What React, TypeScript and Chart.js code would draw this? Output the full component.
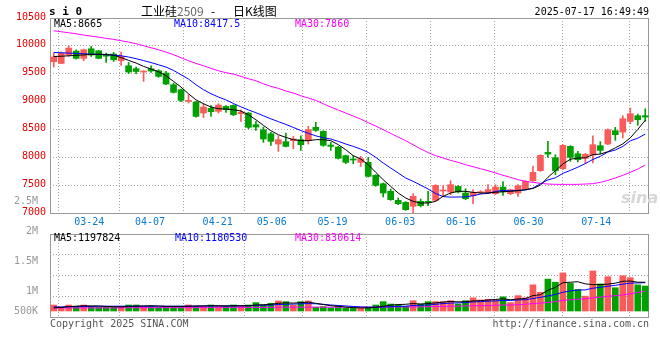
import React, { useEffect, useRef } from 'react';
import { Chart, registerables } from 'chart.js';
Chart.register(...registerables);

// ---------- data ----------
const DATES = ['03-21','03-24','03-25','03-26','03-27','03-28','03-31','04-01','04-02','04-03','04-07','04-08','04-09','04-10','04-11','04-14','04-15','04-16','04-17','04-18','04-21','04-22','04-23','04-24','04-25','04-28','04-29','04-30','05-06','05-07','05-08','05-09','05-12','05-13','05-14','05-15','05-16','05-19','05-20','05-21','05-22','05-23','05-26','05-27','05-28','05-29','05-30','06-03','06-04','06-05','06-06','06-09','06-10','06-11','06-12','06-13','06-16','06-17','06-18','06-19','06-20','06-23','06-24','06-25','06-26','06-27','06-30','07-01','07-02','07-03','07-04','07-07','07-08','07-09','07-10','07-11','07-14','07-15','07-16','07-17'];
const TICK_DATES = ['03-24','04-07','04-21','05-06','05-19','06-03','06-16','06-30','07-14'];

const OPEN = [9715,9685,9840,9906,9775,9948,9912,9830,9852,9733,9643,9590,9530,9590,9553,9512,9302,9213,9003,8991,8794,8878,8824,8914,8931,8782,8794,8585,8495,8423,8238,8280,8298,8316,8298,8537,8465,8220,8184,8029,7963,7909,7909,7676,7526,7389,7227,7191,7120,7209,7209,7227,7395,7377,7478,7359,7311,7365,7359,7347,7466,7347,7359,7430,7580,7759,8088,7993,7795,8196,8064,7981,8041,8208,8238,8477,8453,8644,8746,8746];
const HIGH = [9870,9890,10000,9930,9942,9990,9918,9870,9882,9888,9703,9620,9553,9643,9571,9542,9332,9225,9123,9003,8961,8926,8961,8926,8943,8854,8806,8645,8543,8447,8387,8435,8375,8387,8555,8627,8477,8268,8196,8041,8029,8017,7999,7688,7538,7430,7269,7203,7347,7251,7389,7508,7490,7580,7490,7436,7419,7401,7508,7508,7562,7430,7508,7580,7837,8047,8286,8047,8226,8208,8106,8070,8387,8280,8507,8537,8746,8884,8776,8872];
const LOW = [9620,9680,9810,9763,9733,9810,9770,9703,9721,9650,9500,9500,9362,9524,9434,9302,9153,8997,8973,8722,8710,8734,8794,8806,8746,8645,8513,8483,8268,8214,8106,8184,8154,8124,8238,8465,8196,8124,7969,7885,7885,7837,7646,7478,7287,7227,7150,7048,6995,7108,7132,7209,7299,7329,7359,7239,7167,7341,7347,7329,7317,7329,7299,7419,7568,7747,7999,7688,7777,7927,7915,7885,7897,8064,8226,8304,8346,8603,8573,8644];
const CLOSE = [9800,9870,9960,9775,9930,9835,9775,9815,9750,9810,9530,9540,9542,9548,9452,9314,9165,9021,9015,8734,8902,8818,8937,8854,8764,8806,8537,8543,8328,8286,8316,8196,8328,8226,8495,8483,8214,8196,7981,7909,7951,7975,7658,7496,7359,7239,7167,7060,7299,7132,7191,7496,7401,7508,7377,7257,7371,7377,7419,7466,7377,7419,7490,7568,7730,8035,8058,7759,8214,7999,7957,8053,8226,8124,8495,8405,8692,8782,8674,8722];

const MA5 = [9808,9814,9822,9830,9838,9846,9850,9846,9832,9790,9739,9691,9631,9583,9535,9464,9362,9260,9140,9030,8961,8902,8872,8866,8854,8830,8764,8674,8573,8477,8405,8357,8316,8298,8298,8316,8316,8298,8226,8136,8029,7969,7867,7730,7598,7478,7359,7269,7209,7179,7179,7209,7299,7359,7389,7389,7371,7359,7359,7371,7383,7389,7401,7419,7440,7500,7640,7760,7880,7965,7987,7990,8047,8058,8100,8170,8240,8350,8500,8665];
const MA10 = [9882,9876,9870,9864,9858,9852,9846,9840,9834,9822,9800,9770,9735,9700,9660,9619,9559,9482,9404,9302,9213,9141,9081,9030,8965,8905,8850,8800,8745,8690,8640,8590,8535,8480,8430,8385,8350,8328,8286,8238,8196,8148,8088,7999,7897,7807,7718,7628,7568,7500,7430,7350,7295,7285,7287,7289,7309,7341,7353,7386,7405,7397,7406,7412,7447,7525,7594,7632,7712,7765,7823,7887,7961,8017,8094,8131,8194,8296,8342,8417.5];
const MA30 = [10271,10253,10235,10217,10193,10175,10157,10134,10116,10092,10068,10038,10002,9966,9930,9888,9841,9787,9733,9685,9643,9595,9553,9518,9494,9452,9410,9374,9320,9272,9237,9189,9153,9105,9063,9021,8961,8902,8848,8794,8740,8686,8621,8561,8495,8429,8363,8298,8225,8150,8085,8030,7987,7945,7909,7867,7831,7795,7759,7718,7676,7640,7598,7568,7550,7532,7520,7514,7514,7514,7514,7520,7526,7550,7586,7628,7676,7730,7789,7860];

const VOLUME = [250000,160000,250000,200000,250000,200000,160000,160000,160000,200000,250000,250000,200000,200000,160000,200000,200000,200000,250000,200000,200000,250000,200000,200000,250000,200000,250000,350000,250000,320000,420000,390000,250000,390000,420000,160000,180000,130000,200000,110000,110000,110000,160000,250000,390000,290000,250000,200000,430000,290000,390000,390000,390000,430000,290000,430000,550000,460000,490000,460000,590000,350000,640000,550000,1090000,780000,1330000,1200000,1590000,1150000,900000,620000,1670000,1130000,1430000,970000,1470000,1390000,1090000,1040000];
const VOL_MA5 = [130000,150000,180000,200000,220000,210000,210000,190000,180000,170000,190000,200000,210000,220000,210000,190000,190000,190000,200000,210000,210000,220000,220000,210000,220000,220000,220000,250000,260000,280000,320000,340000,330000,350000,370000,320000,270000,220000,200000,160000,140000,130000,130000,150000,200000,240000,270000,280000,310000,290000,310000,340000,370000,400000,380000,390000,420000,430000,460000,480000,510000,470000,500000,520000,640000,680000,860000,990000,1180000,1200000,1220000,1130000,1100000,1100000,1120000,1160000,1240000,1250000,1200000,1197824];
const VOL_MA10 = [170000,170000,180000,180000,190000,190000,200000,200000,200000,200000,200000,200000,200000,200000,200000,200000,200000,200000,200000,200000,210000,210000,210000,210000,210000,210000,220000,230000,240000,250000,270000,280000,290000,300000,310000,300000,280000,250000,230000,210000,190000,170000,160000,160000,170000,180000,190000,200000,230000,240000,250000,280000,310000,330000,340000,350000,380000,390000,410000,420000,440000,440000,460000,470000,520000,570000,630000,690000,780000,840000,870000,880000,950000,990000,1030000,1070000,1120000,1160000,1170000,1180530];
const VOL_MA30 = [130000,130000,130000,130000,130000,130000,130000,130000,130000,130000,140000,140000,140000,140000,140000,140000,140000,140000,140000,140000,150000,150000,150000,150000,150000,150000,150000,150000,150000,150000,160000,160000,160000,160000,160000,160000,160000,160000,160000,160000,160000,160000,160000,160000,160000,170000,170000,170000,170000,170000,180000,190000,190000,200000,200000,210000,220000,220000,230000,240000,250000,250000,260000,280000,310000,330000,360000,390000,440000,470000,490000,510000,550000,580000,610000,640000,670000,720000,770000,830614];

const VOL_TICK_VALUES = [4580000, 3330000, 2080000, 830000, 0];
const VOL_TICK_LABELS = ['2.5M', '2M', '1.5M', '1M', '500K'];

// ---------- styles ----------
const UP = '#fa5a5a';
const DOWN = '#00a000';
const GRID = '#a8a8a8';
const FRAME = '#999999';
const MONO = '"DejaVu Sans Mono", "Liberation Mono", monospace';
const CJK = '"Noto Sans CJK SC", sans-serif';
const PRICE_MIN = 7000;
const PRICE_MAX = 10500;
const VOL_MIN = -250000;
const VOL_MAX = 3210000;
const XL_MIN = 0.119;
const XL_MAX = 78.89;

const last = (a: number[]) => a[a.length - 1];

function txt(ctx: CanvasRenderingContext2D, s: string, x: number, y: number, color: string, font: string, align: CanvasTextAlign = 'left') {
  ctx.save();
  ctx.fillStyle = color;
  ctx.font = font;
  ctx.textAlign = align;
  ctx.textBaseline = 'middle';
  ctx.fillText(s, x, y);
  ctx.restore();
}

const framePlugin = {
  id: 'frame',
  beforeDatasetsDraw(chart: any) {
    const { ctx, chartArea: a } = chart;
    ctx.save();
    ctx.strokeStyle = FRAME;
    ctx.lineWidth = 1;
    ctx.strokeRect(Math.round(a.left) + 0.5, Math.round(a.top) + 0.5, Math.round(a.right - a.left) - 1, Math.round(a.bottom - a.top));
    ctx.restore();
  },
};

const priceTextPlugin = {
  id: 'priceText',
  beforeDatasetsDraw(chart: any) {
    const ctx = chart.ctx;
    txt(ctx, 'sina', 621, 199, '#d8d8d8', 'italic bold 16px "DejaVu Sans", sans-serif');
  },
  afterDraw(chart: any) {
    const ctx = chart.ctx;
    txt(ctx, 's i 0', 49, 12, '#000', `bold 11px ${MONO}`);
    txt(ctx, '工业硅', 141, 11, '#000', `12px ${CJK}`);
    txt(ctx, '2509', 177, 11, '#666', `12px ${CJK}`);
    txt(ctx, '-', 211, 11, '#000', `12px ${CJK}`);
    txt(ctx, '日K线图', 233, 11, '#000', `12px ${CJK}`);
    txt(ctx, '2025-07-17 16:49:49', 649, 12, '#000', `10px ${MONO}`, 'right');
    txt(ctx, `MA5:${last(MA5)}`, 54, 24, '#000', `10px ${MONO}`);
    txt(ctx, `MA10:${last(MA10)}`, 174, 24, '#0000ff', `10px ${MONO}`);
    txt(ctx, `MA30:${last(MA30)}`, 295, 24, '#ff00ff', `10px ${MONO}`);
  },
};

const volTextPlugin = {
  id: 'volText',
  afterDraw(chart: any) {
    const ctx = chart.ctx;
    txt(ctx, `MA5:${last(VOL_MA5)}`, 54, 46, '#000', `10px ${MONO}`);
    txt(ctx, `MA10:${last(VOL_MA10)}`, 175, 46, '#0000ff', `10px ${MONO}`);
    txt(ctx, `MA30:${last(VOL_MA30)}`, 295, 46, '#ff00ff', `10px ${MONO}`);
    txt(ctx, 'Copyright 2025 SINA.COM', 50, 132, '#555', `10px ${MONO}`);
    txt(ctx, 'http://finance.sina.com.cn', 649, 132, '#555', `10px ${MONO}`, 'right');
  },
};

const candleColors = CLOSE.map((c, i) => (c >= OPEN[i] ? UP : DOWN));
const tickIdx = TICK_DATES.map((d) => DATES.indexOf(d));

const maLine = (label: string, data: number[], color: string) => ({
  type: 'line' as const,
  label,
  data,
  borderColor: color,
  borderWidth: 1,
  pointRadius: 0,
  tension: 0,
  xAxisID: 'x',
  yAxisID: 'y',
  order: 0,
});

const xGridAxis = (showLabels: boolean, height: number) => ({
  type: 'linear' as const,
  position: 'bottom' as const,
  min: XL_MIN,
  max: XL_MAX,
  afterBuildTicks: (s: any) => { s.ticks = tickIdx.map((v) => ({ value: v })); },
  afterFit: (s: any) => { s.height = height; },
  grid: { color: GRID, drawTicks: false },
  border: { display: false, dash: [1, 2] },
  ticks: {
    display: showLabels,
    autoSkip: false,
    maxRotation: 0,
    padding: 3,
    color: '#0a7bd0',
    font: { family: MONO, size: 10 },
    callback: (v: any) => DATES[v as number],
  },
});

export default function App() {
  const pRef = useRef<HTMLCanvasElement>(null);
  const vRef = useRef<HTMLCanvasElement>(null);

  useEffect(() => {
    const price = new Chart(pRef.current as HTMLCanvasElement, {
      type: 'bar',
      data: {
        labels: DATES,
        datasets: [
          maLine('MA5', MA5, '#000000'),
          maLine('MA10', MA10, '#0000ff'),
          maLine('MA30', MA30, '#ff00ff'),
          {
            label: 'wick',
            data: LOW.map((l, i) => [l, HIGH[i]]),
            backgroundColor: candleColors,
            barThickness: 1,
            grouped: false,
            xAxisID: 'x',
            yAxisID: 'y',
            order: 2,
          },
          {
            label: 'body',
            data: OPEN.map((o, i) => [o, CLOSE[i]]),
            backgroundColor: candleColors,
            barThickness: 6,
            minBarLength: 1,
            grouped: false,
            xAxisID: 'x',
            yAxisID: 'y',
            order: 1,
          },
        ] as any,
      },
      options: {
        responsive: false,
        animation: false,
        events: [],
        layout: { padding: { left: 0, right: 11, top: 18, bottom: 0 } },
        plugins: { legend: { display: false }, tooltip: { enabled: false } },
        scales: {
          x: { type: 'category', display: false, offset: true },
          xl: xGridAxis(true, 19) as any,
          y: {
            min: PRICE_MIN,
            max: PRICE_MAX,
            afterFit: (s: any) => { s.width = 50; },
            grid: { color: GRID, drawTicks: false },
            border: { display: false, dash: [1, 2] },
            ticks: {
              stepSize: 500,
              padding: 4,
              labelOffset: -1,
              color: '#e60000',
              font: { family: MONO, size: 10 },
              callback: (v: any) => String(v),
            },
          },
        },
      },
      plugins: [framePlugin, priceTextPlugin],
    });

    const vol = new Chart(vRef.current as HTMLCanvasElement, {
      type: 'bar',
      data: {
        labels: DATES,
        datasets: [
          maLine('MA5', VOL_MA5, '#000000'),
          maLine('MA10', VOL_MA10, '#0000ff'),
          maLine('MA30', VOL_MA30, '#ff00ff'),
          {
            label: 'VOL',
            data: VOLUME,
            backgroundColor: candleColors,
            barThickness: 6,
            xAxisID: 'x',
            yAxisID: 'y',
            order: 1,
          },
        ] as any,
      },
      options: {
        responsive: false,
        animation: false,
        events: [],
        layout: { padding: { left: 0, right: 11, top: 42, bottom: 43 } },
        plugins: { legend: { display: false }, tooltip: { enabled: false } },
        scales: {
          x: { type: 'category', display: false, offset: true },
          xl: xGridAxis(false, 0) as any,
          y: {
            min: VOL_MIN,
            max: VOL_MAX,
            afterBuildTicks: (s: any) => { s.ticks = VOL_TICK_VALUES.map((v) => ({ value: v })); },
            afterFit: (s: any) => { s.width = 50; },
            grid: { display: false },
            border: { display: false },
            ticks: {
              autoSkip: false,
              padding: 4,
              color: '#999999',
              font: { family: MONO, size: 10 },
              callback: (_v: any, i: number) => VOL_TICK_LABELS[i],
            },
          },
          yg: {
            type: 'linear',
            position: 'right',
            min: 0,
            max: 4,
            afterFit: (s: any) => { s.width = 0; },
            grid: { color: GRID, drawTicks: false },
            border: { display: false, dash: [1, 2] },
            ticks: { display: false, stepSize: 1 },
          },
        },
      },
      plugins: [framePlugin, volTextPlugin],
    });

    return () => {
      price.destroy();
      vol.destroy();
    };
  }, []);

  return (
    <div style={{ position: 'fixed', left: 0, top: 0, width: 660, height: 360, background: '#ffffff', overflow: 'hidden' }}>
      <canvas ref={pRef} width={660} height={232} style={{ position: 'absolute', left: 0, top: 0, width: 660, height: 232 }} />
      <canvas ref={vRef} width={660} height={168} style={{ position: 'absolute', left: 0, top: 192, width: 660, height: 168 }} />
    </div>
  );
}
